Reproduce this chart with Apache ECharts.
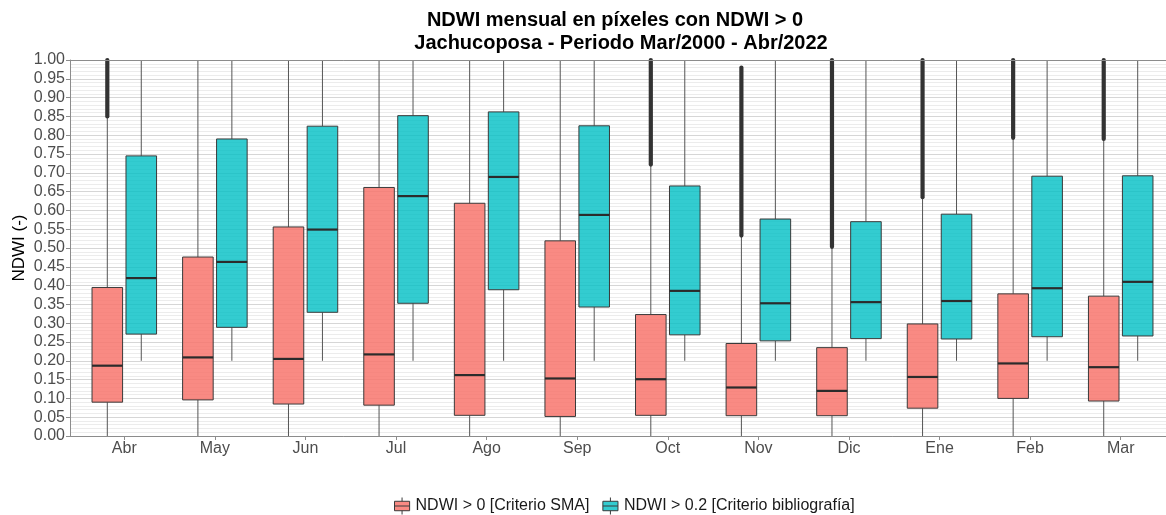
<!DOCTYPE html>
<html>
<head>
<meta charset="utf-8">
<script src="https://cdn.jsdelivr.net/npm/echarts@6/dist/echarts.min.js"></script>
<style>
  html, body { margin: 0; padding: 0; background: #ffffff; }
  #chart { width: 1166px; height: 515px; }
</style>
</head>
<body>
<div id="chart"></div>
<script>
// Months (hydrological year order)
const months = ['Abr', 'May', 'Jun', 'Jul', 'Ago', 'Sep', 'Oct', 'Nov', 'Dic', 'Ene', 'Feb', 'Mar'];

// NDWI > 0 [Criterio SMA] — box statistics per month
const smaLow  = [0, 0, 0, 0, 0, 0, 0, 0, 0, 0, 0, 0];
const smaQ1   = [0.090, 0.096, 0.085, 0.082, 0.055, 0.052, 0.055, 0.054, 0.054, 0.074, 0.100, 0.093];
const smaMed  = [0.187, 0.209, 0.205, 0.217, 0.162, 0.153, 0.151, 0.129, 0.120, 0.157, 0.193, 0.183];
const smaQ3   = [0.395, 0.476, 0.556, 0.661, 0.619, 0.519, 0.323, 0.246, 0.235, 0.298, 0.378, 0.372];
const smaHigh = [0.850, 1.000, 1.000, 1.000, 1.000, 1.000, 0.722, 0.533, 0.503, 0.635, 0.793, 0.790];
// Outlier clusters (ranges of stacked outlier points) per month
const smaOutliers = [
  [[0.850, 1.000]], [], [], [], [], [],
  [[0.722, 1.000]],
  [[0.533, 0.980], [1.000, 1.000]],
  [[0.503, 1.000]],
  [[0.635, 1.000]],
  [[0.793, 1.000]],
  [[0.790, 1.000]]
];

// NDWI > 0.2 [Criterio bibliografía] — box statistics per month
const bibLow  = [0.2, 0.2, 0.2, 0.2, 0.2, 0.2, 0.2, 0.2, 0.2, 0.2, 0.2, 0.2];
const bibQ1   = [0.271, 0.289, 0.329, 0.353, 0.389, 0.343, 0.269, 0.253, 0.259, 0.258, 0.264, 0.266];
const bibMed  = [0.420, 0.463, 0.549, 0.638, 0.689, 0.588, 0.386, 0.353, 0.356, 0.359, 0.393, 0.410];
const bibQ3   = [0.745, 0.790, 0.824, 0.852, 0.862, 0.825, 0.665, 0.577, 0.570, 0.590, 0.691, 0.692];
const bibHigh = [1, 1, 1, 1, 1, 1, 1, 1, 1, 1, 1, 1];

const seriesNames = ['NDWI > 0 [Criterio SMA]', 'NDWI > 0.2 [Criterio bibliografía]'];
const yTicks = { min: 0, max: 1, step: 0.05 };

const FONT = '"Liberation Sans", Arial, Helvetica, sans-serif';
const fillSma = 'rgba(248,118,109,0.85)';
const fillBib = 'rgba(0,191,196,0.8)';

function rows(low, q1, med, q3, high) {
  return months.map((m, i) => [i, low[i], q1[i], med[i], q3[i], high[i]]);
}

// Draws one dodged box (side = -1 left, +1 right) with whiskers, median and outlier clusters
function boxRenderer(side, fill, outliers) {
  return function (params, api) {
    const i = api.value(0);
    const band = api.size([1, 0])[0];
    const cx = api.coord([i, 0])[0] + side * band * 0.1875;
    const hw = band * 0.16875;
    const y = v => api.coord([i, v])[1];
    const low = api.value(1), q1 = api.value(2), med = api.value(3), q3 = api.value(4), high = api.value(5);
    const children = [
      { type: 'line', shape: { x1: cx, y1: y(low), x2: cx, y2: y(q1) }, style: { stroke: '#555', lineWidth: 1 } },
      { type: 'line', shape: { x1: cx, y1: y(q3), x2: cx, y2: y(high) }, style: { stroke: '#555', lineWidth: 1 } },
      { type: 'rect', shape: { x: cx - hw, y: y(q3), width: 2 * hw, height: y(q1) - y(q3) },
        style: { fill: fill, stroke: '#3a3a3a', lineWidth: 1 } },
      { type: 'line', shape: { x1: cx - hw, y1: y(med), x2: cx + hw, y2: y(med) }, style: { stroke: '#2b2b2b', lineWidth: 2.2 } }
    ];
    (outliers ? outliers[params.dataIndex] : []).forEach(r => {
      children.push({ type: 'line', shape: { x1: cx, y1: y(r[0]), x2: cx, y2: y(r[1]) },
        style: { stroke: '#333', lineWidth: 4.2, lineCap: 'round' } });
    });
    return { type: 'group', children: children };
  };
}

const legendIcon = 'path://M0,4H16V14H0ZM0,9H16M8,0V4M8,14V18';

const chart = echarts.init(document.getElementById('chart'), null, { renderer: 'canvas' });
chart.setOption({
  backgroundColor: '#ffffff',
  animation: false,
  textStyle: { fontFamily: FONT },
  graphic: [
    { type: 'text', x: 615, y: 20, style: { text: 'NDWI mensual en píxeles con NDWI > 0', font: 'bold 20px ' + FONT, fill: '#000', align: 'center', verticalAlign: 'middle' } },
    { type: 'text', x: 621, y: 43, style: { text: 'Jachucoposa - Periodo Mar/2000 - Abr/2022', font: 'bold 20px ' + FONT, fill: '#000', align: 'center', verticalAlign: 'middle' } }
  ],
  grid: [
    { left: 70, right: -10, top: 60, bottom: 79 },
    { left: 79, right: -1, top: 60, bottom: 79 }
  ],
  xAxis: [
    { type: 'value', gridIndex: 0, min: 0, max: 1, z: 5,
      axisLine: { show: true, onZero: false, lineStyle: { color: '#8c8c8c', width: 1 } },
      axisTick: { show: false }, axisLabel: { show: false }, splitLine: { show: false } },
    { type: 'value', gridIndex: 0, min: 0, max: 1, position: 'top', z: 5,
      axisLine: { show: true, onZero: false, lineStyle: { color: '#8c8c8c', width: 1 } },
      axisTick: { show: false }, axisLabel: { show: false }, splitLine: { show: false } },
    { type: 'category', gridIndex: 1, data: months, boundaryGap: true, z: 5,
      axisLine: { show: false },
      axisTick: { show: true, alignWithLabel: true, length: 4, lineStyle: { color: '#8c8c8c' } },
      axisLabel: { fontSize: 16, color: '#4d4d4d', margin: 5, fontFamily: FONT },
      splitLine: { show: false } }
  ],
  yAxis: [
    { type: 'value', gridIndex: 0, min: yTicks.min, max: yTicks.max, interval: yTicks.step, z: 1,
      name: 'NDWI (-)', nameLocation: 'middle', nameGap: 42, nameMoveOverlap: false,
      nameTextStyle: { fontSize: 17, color: '#000', fontFamily: FONT },
      axisLine: { show: true, lineStyle: { color: '#8c8c8c', width: 1 } },
      axisTick: { show: true, length: 4, lineStyle: { color: '#8c8c8c' } },
      axisLabel: { fontSize: 16, color: '#4d4d4d', margin: 5, fontFamily: FONT, formatter: v => v.toFixed(2) },
      splitLine: { show: true, lineStyle: { color: '#d6d6d6', width: 1 } },
      minorTick: { show: false, splitNumber: 5 },
      minorSplitLine: { show: true, lineStyle: { color: '#ececec', width: 1 } } },
    { type: 'value', gridIndex: 1, min: yTicks.min, max: yTicks.max, show: false }
  ],
  legend: {
    left: 389, top: 492, itemWidth: 17, itemHeight: 17, itemGap: 13, padding: 5,
    textStyle: { fontSize: 16, color: '#1a1a1a', fontFamily: FONT },
    data: [
      { name: seriesNames[0], icon: legendIcon, itemStyle: { color: fillSma, borderColor: '#3a3a3a', borderWidth: 1 } },
      { name: seriesNames[1], icon: legendIcon, itemStyle: { color: fillBib, borderColor: '#3a3a3a', borderWidth: 1 } }
    ]
  },
  series: [
    { name: seriesNames[0], type: 'custom', xAxisIndex: 2, yAxisIndex: 1,
      itemStyle: { color: fillSma },
      renderItem: boxRenderer(-1, fillSma, smaOutliers),
      encode: { x: 0, y: [1, 2, 3, 4, 5] },
      data: rows(smaLow, smaQ1, smaMed, smaQ3, smaHigh) },
    { name: seriesNames[1], type: 'custom', xAxisIndex: 2, yAxisIndex: 1,
      itemStyle: { color: fillBib },
      renderItem: boxRenderer(1, fillBib, null),
      encode: { x: 0, y: [1, 2, 3, 4, 5] },
      data: rows(bibLow, bibQ1, bibMed, bibQ3, bibHigh) }
  ]
});
</script>
</body>
</html>
